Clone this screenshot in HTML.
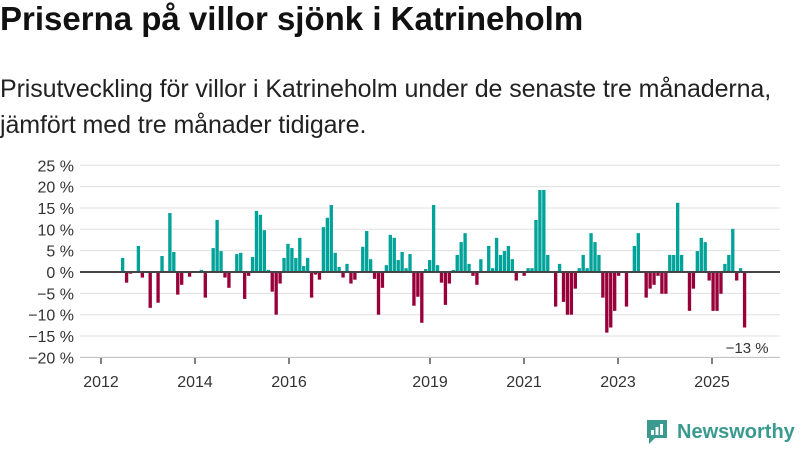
<!DOCTYPE html>
<html><head><meta charset="utf-8">
<style>
body{margin:0;width:800px;height:450px;background:#fff;font-family:"Liberation Sans",sans-serif;overflow:hidden;position:relative}
h1{position:absolute;left:0;top:0px;margin:0;font-size:33px;font-weight:bold;color:#111;letter-spacing:0px}
p{position:absolute;left:0;top:71px;margin:0;font-size:25px;line-height:36px;color:#222;letter-spacing:-0.1px}
.logo{position:absolute;left:645px;top:418px;display:flex;align-items:center}
.logo span{font-size:20px;font-weight:bold;color:#3a9a8f;margin-left:8px}
</style></head><body>
<h1>Priserna på villor sjönk i Katrineholm</h1>
<p>Prisutveckling för villor i Katrineholm under de senaste tre månaderna,<br>jämfört med tre månader tidigare.</p>
<svg id="chart" width="800" height="450" style="position:absolute;left:0;top:0"></svg>
<div class="logo">
<svg width="24" height="28" viewBox="0 0 24 28"><path d="M2 2h20v18H10l-6 6v-6H2z" fill="#3a9a8f"/><rect x="6" y="12" width="3" height="5" fill="#fff"/><rect x="10.5" y="9" width="3" height="8" fill="#fff"/><rect x="15" y="6" width="3" height="11" fill="#fff"/></svg>
<span>Newsworthy</span></div>
<script>
const yTicks=[25,20,15,10,5,0,-5,-10,-15,-20];
const xTickYears=[2012,2014,2016,2019,2021,2023,2025];
const startYear=2012, startMonth=5; // June 2012 (0-based month)
const values=[3.3,-2.5,-0.4,0,6.1,-1.3,0,-8.4,0,-7.2,3.75,0,13.8,4.7,-5.3,-3,0,-1.1,0,0,0.5,-6,0,5.6,12.2,4.9,-1.3,-3.7,0,4.2,4.5,-6.3,-0.9,3.5,14.3,13.4,9.8,0.5,-4.6,-10,-2.7,3.3,6.6,5.6,3.3,8,1.4,3.3,-6,-0.6,-1.8,
10.5,12.7,15.7,4.5,1.2,-1.3,1.9,-2.7,-1.8,0,5.9,9.6,3,-1.6,-10,-3.7,1.6,8.7,8,2.8,4.7,0.9,4.2,-7.9,-5.8,-11.9,0.7,2.8,15.7,1.6,-2.5,-7.7,-2.7,0.5,4,7,9.1,1.9,-0.9,-3,3,0,6.1,0.9,8,4,4.9,6.1,3,-2,0,-0.9,0.9,0.9,12.2,19.2,19.2,
4,0,-8.1,1.9,-7,-10,-10,-3.9,0.9,4,0.9,9.1,7,4,-6,-14.2,-13,-9.1,-0.9,0,-8.1,0,6.1,9.1,0,-6,-3.9,-3,-0.9,-5.1,-5.1,4,4,16.2,4,0,-9.1,-3.9,4.9,8,7,-2,-9.1,-9.1,-5.1,1.9,4,10.1,-2,0.9,-13];
const lastLabel="−13 %";
const NS="http://www.w3.org/2000/svg";
const svg=document.getElementById('chart');
function y(v){return 272-v*4.27;}
function x(yr){return 101+(yr-2012)*47;}
function mk(t,a){const e=document.createElementNS(NS,t);for(const k in a)e.setAttribute(k,a[k]);svg.appendChild(e);return e;}
yTicks.forEach(t=>{
 const g=mk('line',{x1:80,x2:780,y1:y(t),y2:y(t),stroke:t===-20?'#bbb':'#e0e0e0','stroke-width':1});
 
 
 const l=mk('text',{x:74,y:y(t)+6,'text-anchor':'end','font-size':16,fill:'#333','font-family':'Liberation Sans, sans-serif'});
 l.textContent=(t<0?'−'+(-t):t)+' %';
 
 
});
xTickYears.forEach(yr=>{
 const tk=mk('line',{x1:x(yr),x2:x(yr),y1:358,y2:364,stroke:'#555','stroke-width':1.5});
 
 
 const l=mk('text',{x:x(yr),y:387,'text-anchor':'middle','font-size':16,fill:'#333','font-family':'Liberation Sans, sans-serif'});
 l.textContent=yr;
 
 
});
const bw=47/12*1.005;
values.forEach((v,i)=>{
 if(v===0)return;
 const cx=x(startYear+(startMonth+i+0.5)/12*1.005);
 const r=mk('rect',{x:cx-bw/2+0.3,width:bw-0.6,y:Math.min(y(v),y(0)),height:Math.abs(y(v)-y(0)),fill:v>0?'#00a39a':'#98003a'});
 
 
});
const z=mk('line',{x1:80,x2:780,y1:y(0),y2:y(0),stroke:'#444','stroke-width':2});


const lx=x(startYear+(startMonth+values.length-0.5)/12*1.005);
const lb=mk('text',{x:lx+24,y:353,'text-anchor':'end','font-size':15,fill:'#333','font-family':'Liberation Sans, sans-serif'});
lb.textContent=lastLabel;


</script>
</body></html>
